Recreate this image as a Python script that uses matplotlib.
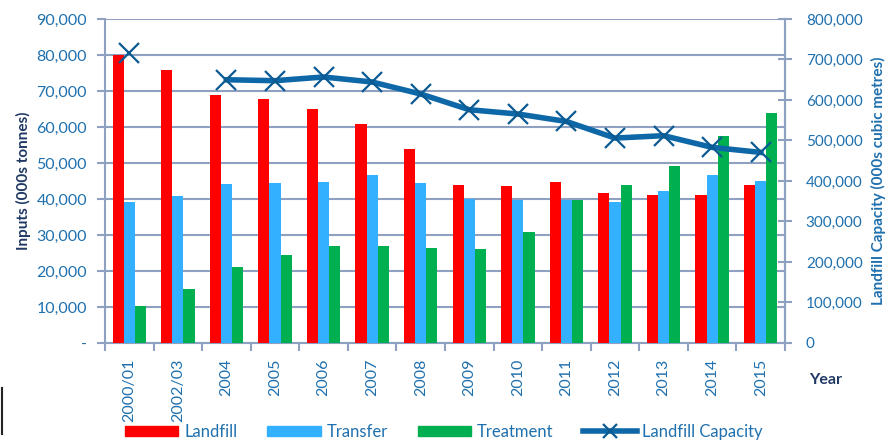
#!/usr/bin/env python3
"""
Waste inputs by route and remaining landfill capacity
"""

import numpy as np
import matplotlib
matplotlib.use('Agg')
import matplotlib.pyplot as plt
from matplotlib.lines import Line2D
from matplotlib.patches import Patch
from matplotlib.ticker import FuncFormatter

plt.rcParams['font.family'] = ['Lato', 'DejaVu Sans']

# data (000s tonnes / 000s cubic metres)
years = ['2000/01', '2002/03', '2004', '2005', '2006', '2007', '2008',
         '2009', '2010', '2011', '2012', '2013', '2014', '2015']
landfill = [80000, 75700, 69000, 67900, 65000, 60800, 53800,
            43900, 43500, 44700, 41800, 41000, 41200, 43900]
transfer = [39300, 40900, 44200, 44400, 44700, 46800, 44400,
            40000, 39600, 39800, 39200, 42200, 46700, 44900]
treatment = [10400, 14900, 21000, 24500, 26900, 27000, 26400,
             26200, 30800, 39600, 43800, 49200, 57400, 64000]
capacity = [715000, np.nan, 650000, 647700, 656800, 644400, 614800,
            576000, 565400, 547000, 506000, 511900, 483000, 470600]

# colours
RED = '#FF0000'
LBLUE = '#33B0FF'
GREEN = '#00B050'
LINE = '#0E68A8'
MARK = '#0B5A92'
AXIS = '#8EA1C1'
TXT = '#1F70AE'
NAVY = '#1F3864'

fig = plt.figure(figsize=(8.89, 4.40), dpi=100)
ax = fig.add_axes([105/889, 1-343/440, 680/889, 324/440])

x = np.arange(len(years))
w = 0.23
ax.bar(x - w, landfill, w, color=RED, zorder=3)
ax.bar(x, transfer, w, color=LBLUE, zorder=3)
ax.bar(x + w, treatment, w, color=GREEN, zorder=3)

ax.set_xlim(-0.5, len(years) - 0.5)
ax.set_ylim(0, 90000)
ax.set_yticks(np.arange(0, 90001, 10000))
ax.yaxis.set_major_formatter(FuncFormatter(lambda v, p: '-' if v == 0 else f'{int(v):,}'))
ax.grid(axis='y', color=AXIS, linewidth=1.5, zorder=0)

ax.set_xticks(x)
ax.set_xticklabels(years, rotation=90, fontsize=11.5, color=TXT)
ax.set_xticks(np.arange(-0.5, len(years), 1), minor=True)
ax.tick_params(axis='x', which='major', length=0, pad=11)
ax.tick_params(axis='x', which='minor', length=6, width=1.5, color=AXIS)
ax.tick_params(axis='y', length=6, width=1.5, color=AXIS, labelsize=11.5,
               labelcolor=TXT, pad=7)

for s in ['left', 'bottom', 'right']:
    ax.spines[s].set_color(AXIS)
    ax.spines[s].set_linewidth(1.5)
ax.spines['top'].set_visible(False)

ax.set_ylabel('Inputs (000s tonnes)', fontsize=11, fontweight='bold',
              color=NAVY, labelpad=4)

# secondary axis for landfill capacity
ax2 = ax.twinx()
ax2.plot(x, capacity, color=LINE, linewidth=4, marker='x', markersize=14,
         markeredgewidth=1.6, markeredgecolor=MARK, zorder=5)
ax2.set_ylim(0, 800000)
ax2.set_yticks(np.arange(0, 800001, 100000))
ax2.yaxis.set_major_formatter(FuncFormatter(lambda v, p: f'{int(v):,}'))
ax2.tick_params(axis='y', direction='inout', length=10, width=1.5, color=AXIS,
                labelsize=11, labelcolor=TXT, pad=10)
for s in ['left', 'bottom', 'top']:
    ax2.spines[s].set_visible(False)
ax2.spines['right'].set_color(AXIS)
ax2.spines['right'].set_linewidth(1.5)
ax2.set_ylabel('Landfill Capacity (000s cubic metres)', fontsize=11,
               fontweight='bold', color=TXT, labelpad=6)

fig.text(826/889, 1-380/440, 'Year', fontsize=11.5, fontweight='bold',
         color=NAVY, ha='center', va='center')

# legend
handles = [Patch(color=RED), Patch(color=LBLUE), Patch(color=GREEN),
           Line2D([], [], color=LINE, linewidth=4, marker='x', markersize=10,
                  markeredgewidth=1.6, markeredgecolor=MARK)]
labels = ['Landfill', 'Transfer', 'Treatment', 'Landfill Capacity']
fig.legend(handles, labels, loc='center', bbox_to_anchor=(444/889, 1-432/440),
           ncol=4, frameon=False, fontsize=12, labelcolor=TXT,
           handlelength=3.2, handleheight=0.6, handletextpad=0.35,
           columnspacing=1.8, borderpad=0.2)

# small frame fragment at lower left
fig.add_artist(Line2D([1.5/889, 1.5/889], [1-388/440, 1-434/440],
                      color='#222222', linewidth=1.5))

fig.savefig('out.png', dpi=100)
plt.close(fig)
